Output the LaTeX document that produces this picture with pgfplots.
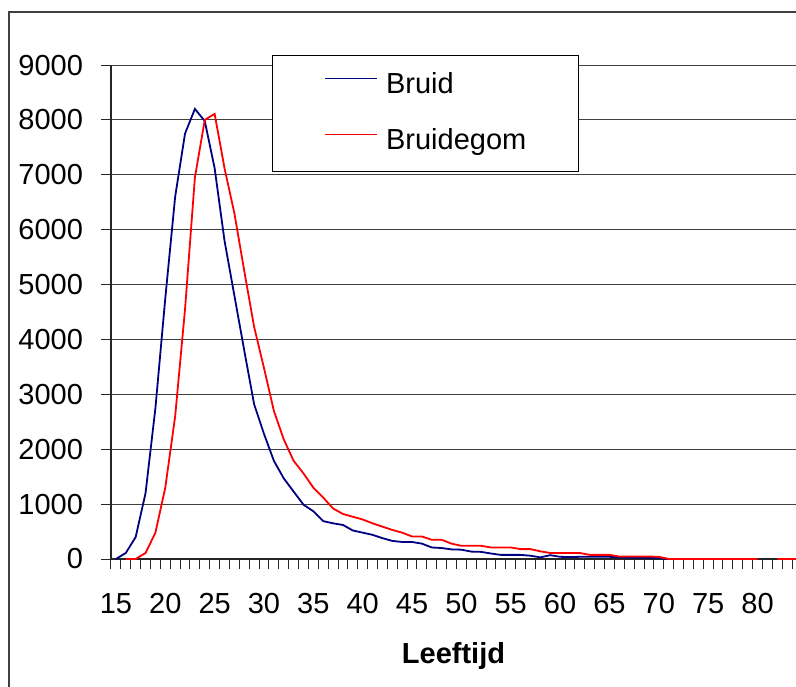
\documentclass[border=0pt]{standalone}
\usepackage{fontspec}
\setmainfont{Liberation Sans}
\usepackage{pgfplots}
\pgfplotsset{compat=1.18}

\begin{document}
\fontsize{14.5pt}{17pt}\selectfont
\begin{tikzpicture}
\path[use as bounding box] (-55.5pt,-63.5pt) rectangle (342.5pt,279.5pt);
\draw[line width=0.7pt, black!75] (-51pt,-70pt) -- (-51pt,273.5pt) -- (350pt,273.5pt);
\begin{axis}[
    at={(0,0)}, anchor=south west,
    scale only axis,
    width=342.5pt, height=247pt,
    xmin=14.5, xmax=83.9,
    ymin=0, ymax=9000,
    axis x line*=bottom,
    axis y line*=left,
    axis line style={black!85, line width=0.6pt},
    tick align=outside,
    major tick length=5pt,
    minor tick length=5pt,
    xtick={15,20,...,80},
    minor xtick={14.5,15.5,...,83.5},
    major x tick style={draw=none},
    ytick={0,1000,...,9000},
    tick style={black!85, line width=0.5pt},
    ymajorgrids,
    major grid style={black!75, line width=0.5pt},
    scaled y ticks=false,
    /pgf/number format/assume math mode=true,
    /pgf/number format/set thousands separator={},
    xticklabel style={anchor=base, inner sep=0pt, yshift=-22pt},
    yticklabel style={anchor=east, inner sep=0pt, xshift=-8.8pt},
    xlabel={\textbf{Leeftijd}},
    xlabel style={at={(axis description cs:0.5,0)}, anchor=base, inner sep=0pt, yshift=-52pt},
    unbounded coords=jump,
    legend style={at={(0.2350,1.0202)}, anchor=north west,
        draw=black, line width=0.5pt, fill=white,
        inner xsep=26pt, inner ysep=8pt,
        row sep=14pt, column sep=4pt,
        nodes={inner sep=0pt, text height=11pt, text depth=3pt}},
    legend cell align=left,
    legend image code/.code={\draw[#1, line width=0.8pt] (0pt,3.5pt) -- (26pt,3.5pt);},
]
\addplot[color={rgb,255:red,0;green,0;blue,128}, line width=0.9pt] coordinates {
(15,0) (16,110) (17,400) (18,1200) (19,2750) (20,4750) (21,6600) (22,7750)
(23,8200) (24,7980) (25,7120) (26,5800) (27,4800) (28,3800) (29,2820) (30,2280)
(31,1790) (32,1470) (33,1230) (34,990) (35,870) (36,690) (37,650) (38,620)
(39,520) (40,480) (41,440) (42,380) (43,330) (44,310) (45,310) (46,280)
(47,210) (48,200) (49,175) (50,170) (51,135) (52,130) (53,100) (54,75)
(55,75) (56,75) (57,60) (58,30) (59,70) (60,40) (61,35) (62,40)
(63,40) (64,40) (65,40) (66,30) (67,25) (68,25) (69,20) (70,20)
(71,0) (72,0) (73,0) (74,0) (75,0) (76,0) (77,0) (78,0) (79,0) (80,0)
};
\addlegendentry{Bruid}
\addplot[color=red, line width=0.9pt] coordinates {
(16,0) (17,0) (18,110) (19,480) (20,1300) (21,2600) (22,4550) (23,6950)
(24,8000) (25,8110) (26,7120) (27,6300) (28,5250) (29,4230) (30,3480) (31,2700)
(32,2180) (33,1790) (34,1560) (35,1300) (36,1120) (37,920) (38,820) (39,770)
(40,720) (41,650) (42,590) (43,530) (44,480) (45,410) (46,410) (47,350)
(48,350) (49,280) (50,240) (51,240) (52,240) (53,210) (54,210) (55,210)
(56,180) (57,180) (58,140) (59,110) (60,110) (61,110) (62,110) (63,75)
(64,75) (65,75) (66,45) (67,45) (68,45) (69,45) (70,40) (71,0)
(72,0) (73,0) (74,0) (75,0) (76,0) (77,0) (78,0) (79,0) (80,0)
(81,nan) (82,0) (83,0) (84,0) (85,0)
};
\addlegendentry{Bruidegom}
\end{axis}
\end{tikzpicture}
\end{document}
